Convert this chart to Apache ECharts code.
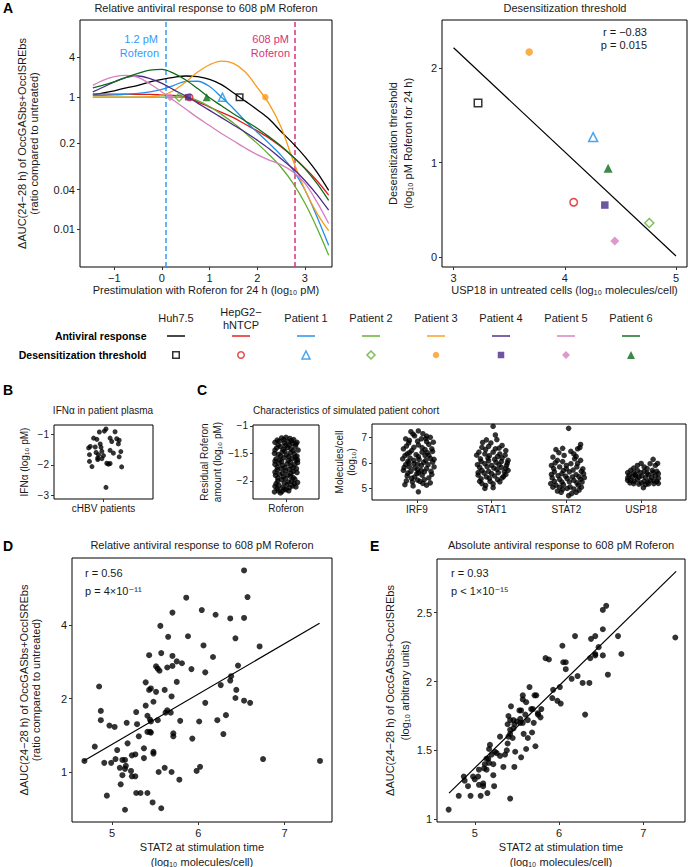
<!DOCTYPE html>
<html><head><meta charset="utf-8">
<script src="https://cdn.jsdelivr.net/npm/echarts@6/dist/echarts.min.js"></script>
<style>html,body{margin:0;padding:0;background:#fff}#c{width:688px;height:867px}</style>
</head><body><div id="c"></div>
<script>
const FONT = '"Liberation Sans", Arial, Helvetica, "DejaVu Sans", sans-serif';
const TXT = '#1a1a1a';

// ---------- Panel A ----------
const sampleNames = ['Huh7.5', 'HepG2−\nhNTCP', 'Patient 1', 'Patient 2', 'Patient 3', 'Patient 4', 'Patient 5', 'Patient 6'];
const sampleColors = ['#000000', '#e3191c', '#1f8fe6', '#5fae2e', '#f99b1c', '#4b2a88', '#d680bf', '#0e6a1a'];
const sampleSymbols = ['rect', 'circle', 'triangle', 'diamond', 'circle', 'rect', 'diamond', 'triangle'];
const sampleFilled = [false, false, false, false, true, true, true, true];
const legendRows = ['Antiviral response', 'Desensitization threshold'];

const prestimLog10pM = [-1.45, -1.25, -1, -0.75, -0.5, -0.25, 0, 0.25, 0.5, 0.75, 1, 1.25, 1.5, 1.75, 2, 2.25, 2.5, 2.75, 3, 3.25, 3.5];
const respHuh75 = [1.07, 1.15, 1.25, 1.38, 1.51, 1.70, 1.86, 2.00, 2.09, 2.04, 1.86, 1.55, 1.17, 0.871, 0.646, 0.468, 0.302, 0.200, 0.126, 0.0741, 0.0389];
const respHepG2 = [1.12, 1.12, 1.11, 1.11, 1.10, 1.10, 1.08, 1.06, 1.01, 0.851, 0.708, 0.589, 0.490, 0.389, 0.309, 0.240, 0.178, 0.126, 0.0851, 0.0550, 0.0331];
const respP1 = [1.07, 1.07, 1.08, 1.11, 1.14, 1.20, 1.31, 1.51, 1.73, 1.74, 1.45, 1.00, 0.676, 0.437, 0.295, 0.200, 0.132, 0.0794, 0.0398, 0.0158, 0.00575];
const respP2 = [1.0, 1.0, 1.0, 1.0, 1.0, 1.0, 1.0, 1.0, 0.99, 0.89, 0.724, 0.550, 0.407, 0.288, 0.200, 0.135, 0.0871, 0.0501, 0.0251, 0.0107, 0.00407];
const respP3 = [1.0, 1.0, 1.0, 1.0, 1.0, 1.02, 1.07, 1.26, 1.70, 2.40, 3.09, 3.51, 3.24, 2.40, 1.41, 0.794, 0.355, 0.112, 0.0398, 0.0178, 0.00955];
const respP4 = [1.20, 1.40, 1.70, 2.00, 2.09, 1.91, 1.62, 1.29, 1.04, 0.813, 0.631, 0.490, 0.380, 0.295, 0.224, 0.166, 0.117, 0.0832, 0.0550, 0.0339, 0.0195];
const respP5 = [1.51, 1.78, 2.04, 2.14, 2.00, 1.58, 1.20, 0.891, 0.661, 0.490, 0.372, 0.282, 0.219, 0.170, 0.135, 0.112, 0.0955, 0.0741, 0.0501, 0.0263, 0.0123];
const respP6 = [1.38, 1.51, 1.70, 2.00, 2.29, 2.57, 2.63, 2.29, 1.82, 1.35, 0.977, 0.741, 0.562, 0.437, 0.339, 0.251, 0.182, 0.126, 0.0832, 0.0501, 0.0275];
const respCurves = [respHuh75, respHepG2, respP1, respP2, respP3, respP4, respP5, respP6];
const ratioTicks = [0.01, 0.04, 0.2, 1, 4];
const roferonDosesPM = [1.2, 608];
const roferonDoseColors = ['#3399ff', '#d6337a'];

const desensThreshold = [1.63, 0.58, 1.27, 0.36, 2.17, 0.55, 0.17, 0.94];
const usp18Untreated = [3.22, 4.08, 4.255, 4.76, 3.68, 4.36, 4.45, 4.39];
const usp18Fit = [[3, 2.216], [5, 0.01]];

// ---------- Panel B ----------
const ifnPlasma = [[1.03,-0.83],[1.01,-0.90],[0.95,-0.93],[1.14,-0.92],[0.88,-1.13],[0.92,-1.17],[1.08,-1.13],[1.16,-1.15],[1.19,-1.20],[1.10,-1.24],[1.18,-1.32],[0.84,-1.40],[0.82,-1.45],[0.96,-1.32],[0.97,-1.43],[0.90,-1.42],[0.83,-1.67],[0.91,-1.60],[0.94,-1.67],[0.93,-1.78],[0.98,-1.56],[1.00,-1.70],[0.98,-1.80],[1.08,-1.53],[1.12,-1.62],[1.21,-1.57],[1.19,-1.74],[0.83,-1.89],[0.86,-2.06],[0.93,-1.83],[1.04,-1.95],[1.06,-1.98],[1.08,-1.96],[1.22,-2.07],[1.03,-2.74]];

// ---------- Panel C ----------
const roferonResidual = [[0.92,-1.22],[1.0,-1.21],[1.07,-1.23],[1.14,-1.25],[0.80,-1.30],[0.88,-1.28],[0.97,-1.31],[1.04,-1.29],[1.12,-1.32],[1.20,-1.30],[0.83,-1.40],[0.90,-1.38],[0.95,-1.43],[1.03,-1.39],[1.09,-1.42],[1.17,-1.37],[1.22,-1.44],[0.79,-1.50],[0.86,-1.52],[0.93,-1.48],[1.01,-1.53],[1.08,-1.49],[1.15,-1.51],[1.20,-1.55],[0.82,-1.60],[0.89,-1.62],[0.96,-1.58],[1.04,-1.63],[1.11,-1.59],[1.18,-1.62],[0.80,-1.70],[0.87,-1.68],[0.94,-1.72],[1.02,-1.69],[1.09,-1.73],[1.16,-1.70],[1.21,-1.67],[0.84,-1.80],[0.91,-1.78],[0.99,-1.82],[1.06,-1.79],[1.13,-1.83],[1.19,-1.78],[0.81,-1.90],[0.88,-1.88],[0.95,-1.93],[1.03,-1.89],[1.08,-1.92],[0.85,-2.00],[0.92,-1.98],[1.10,-2.01],[1.16,-1.97],[1.21,-2.03],[0.80,-2.10],[0.87,-2.08],[0.94,-2.12],[1.02,-2.07],[1.12,-2.09],[1.18,-2.11],[0.79,-2.20],[0.86,-2.18],[0.93,-2.19],[1.00,-2.16],
  [0.84,-1.26],[0.96,-1.25],[1.10,-1.27],[1.18,-1.33],[0.86,-1.35],[0.99,-1.36],[1.06,-1.35],[0.80,-1.44],[0.98,-1.46],[1.13,-1.45],[0.90,-1.55],[1.05,-1.56],[1.17,-1.57],[0.80,-1.64],[0.92,-1.65],[1.08,-1.66],[1.21,-1.62],[0.84,-1.75],[0.98,-1.76],[1.13,-1.76],[0.80,-1.84],[0.94,-1.86],[1.09,-1.86],[1.20,-1.85],[0.85,-1.95],[0.99,-1.96],[1.05,-2.02],[1.13,-1.94],[0.82,-2.05],[0.97,-2.04],[1.07,-2.12],[1.15,-2.05],[0.84,-2.14],[0.90,-2.22],[0.97,-2.15],[1.05,-2.18]];
const cohortGenes = ['IRF9', 'STAT1', 'STAT2', 'USP18'];
const irf9Cohort = [[0.92,7.22],[1.02,7.25],[1.08,7.14],[0.85,6.94],[1.18,7.0],[0.97,7.06],[1.06,6.94],[0.89,6.78],[1.13,6.83],[1.22,6.81],[0.82,6.55],[0.96,6.61],[1.02,6.70],[1.11,6.52],[1.20,6.55],[0.87,6.35],[0.99,6.32],[1.07,6.42],[1.16,6.29],[0.81,6.16],[0.91,6.19],[1.03,6.14],[1.12,6.10],[1.23,6.14],[0.85,5.93],[0.96,5.97],[1.06,5.90],[1.15,5.93],[1.23,5.84],[0.82,5.71],[0.92,5.67],[1.01,5.75],[1.10,5.65],[1.19,5.67],[0.87,5.49],[0.97,5.45],[1.07,5.52],[1.16,5.41],[0.84,5.15],[0.94,5.26],[1.04,5.28],[1.13,5.13],[1.02,4.87],[0.90,5.84],[1.11,6.29],[1.00,5.58],[1.21,6.03],[0.88,6.06],
  [0.95,7.12],[1.13,7.05],[0.90,6.88],[1.01,6.85],[1.16,6.72],[0.86,6.66],[1.07,6.60],[0.93,6.48],[1.14,6.40],[1.21,6.45],[0.84,6.28],[1.02,6.24],[0.96,6.10],[1.18,6.18],[0.89,6.00],[1.09,6.02],[1.01,5.95],[0.83,5.82],[0.97,5.80],[1.13,5.78],[1.06,5.70],[0.88,5.60],[1.02,5.62],[1.20,5.55],[0.93,5.40],[1.10,5.35],[1.01,5.33],[0.86,5.30],[1.18,5.22],[0.95,5.10],[1.08,5.20],[0.90,6.40],[1.12,6.95]];
const stat1Cohort = [[2.02,7.43],[2.05,7.09],[1.93,6.90],[2.07,6.91],[1.87,6.61],[1.96,6.65],[2.14,6.68],[2.19,6.48],[1.83,6.42],[1.91,6.35],[2.02,6.42],[2.11,6.35],[1.85,6.16],[1.95,6.19],[2.04,6.14],[2.14,6.19],[2.22,6.10],[1.81,5.93],[1.91,5.97],[2.0,5.90],[2.10,5.93],[2.20,5.90],[1.87,5.71],[1.96,5.67],[2.07,5.75],[2.17,5.65],[1.82,5.52],[1.93,5.45],[2.04,5.49],[2.14,5.41],[1.87,5.19],[2.02,5.03],[1.91,5.0],[2.11,5.26],[1.98,5.28],[2.22,5.71],
  [1.88,6.80],[1.99,6.78],[2.10,6.58],[1.92,6.52],[2.05,6.55],[1.80,6.30],[1.97,6.28],[2.08,6.25],[2.18,6.30],[1.86,6.05],[1.96,6.08],[2.06,6.02],[2.13,6.05],[2.21,6.00],[1.84,5.82],[1.94,5.85],[2.03,5.80],[2.13,5.82],[2.19,5.78],[1.82,5.62],[1.90,5.60],[2.00,5.58],[2.09,5.62],[2.19,5.55],[1.86,5.38],[1.97,5.40],[2.08,5.35],[2.02,5.18],[1.92,5.12],[1.84,5.28],[2.16,5.47]];
const stat2Cohort = [[3.03,7.35],[3.19,6.72],[3.15,6.55],[2.86,6.52],[2.95,6.57],[3.06,6.45],[2.97,6.29],[2.82,6.23],[2.88,6.10],[3.11,6.16],[3.19,6.10],[3.06,5.97],[2.80,5.90],[2.91,5.84],[3.0,5.77],[3.14,5.84],[3.22,5.77],[2.84,5.65],[2.94,5.58],[3.04,5.65],[3.13,5.54],[3.23,5.58],[2.81,5.41],[2.91,5.36],[3.01,5.39],[3.10,5.32],[3.19,5.36],[2.86,5.13],[2.96,5.15],[3.05,5.06],[3.16,5.13],[2.88,4.90],[3.03,4.72],[3.13,4.85],[2.95,4.97],[2.79,5.19],[3.17,4.94],
  [2.90,6.40],[3.10,6.35],[2.85,6.00],[2.95,6.05],[3.15,5.98],[2.83,5.78],[2.96,5.70],[3.09,5.72],[3.20,5.67],[2.80,5.55],[2.89,5.50],[2.99,5.48],[3.08,5.45],[3.17,5.46],[3.24,5.42],[2.84,5.28],[2.94,5.25],[3.04,5.26],[3.14,5.22],[3.21,5.25],[2.82,5.05],[2.91,5.05],[3.01,5.00],[3.10,4.98],[3.20,5.05],[2.93,4.85],[3.07,4.80],[3.00,5.90],[3.13,6.25],[3.18,6.60]];
const usp18Cohort = [[4.16,6.14],[4.12,5.97],[3.95,5.90],[4.04,5.84],[4.19,5.90],[3.86,5.71],[3.95,5.71],[4.04,5.67],[4.15,5.71],[4.21,5.67],[3.84,5.52],[3.92,5.54],[4.01,5.49],[4.10,5.54],[4.19,5.49],[3.86,5.32],[3.95,5.36],[4.04,5.28],[4.12,5.32],[4.21,5.28],[3.90,5.19],[4.06,5.15],[4.03,5.03],[4.17,5.19],[3.82,5.41],
  [3.82,5.62],[3.90,5.60],[3.99,5.62],[4.08,5.60],[4.16,5.62],[4.23,5.58],[3.88,5.45],[3.97,5.44],[4.06,5.42],[4.14,5.43],[4.23,5.40],[3.82,5.32],[3.91,5.28],[4.00,5.22],[4.09,5.25],[4.17,5.30],[4.23,5.20],[3.85,5.22],[3.97,5.17],[4.10,5.18],[3.90,5.80],[4.08,5.78],[4.00,5.98],[4.22,5.98],[3.93,5.50]];

// ---------- Panel D (STAT2 vs relative response, ratio) ----------
const stat2VsRelative = [[6.53,6.70],[6.57,5.21],[5.86,5.18],[6.04,4.61],[5.70,4.50],[6.20,4.41],[6.37,4.26],[6.53,4.28],[5.56,3.97],[5.65,3.58],[5.88,3.60],[6.43,3.53],[6.71,3.27],[6.06,3.30],[5.43,3.01],[5.57,3.07],[5.70,2.99],[6.17,2.96],[5.75,2.84],[5.81,2.79],[5.51,2.71],[5.53,2.65],[5.55,2.60],[5.64,2.68],[5.70,2.72],[6.46,2.73],[5.92,2.64],[6.08,2.56],[6.38,2.47],[6.37,2.37],[5.39,2.33],[5.75,2.34],[6.26,2.27],[4.85,2.24],[5.51,2.13],[5.45,2.20],[5.43,2.17],[5.61,2.17],[5.48,1.94],[5.69,2.04],[5.39,1.87],[6.44,2.17],[6.43,2.01],[6.08,1.92],[6.53,1.96],[6.60,1.92],[5.64,1.79],[5.62,1.75],[5.68,1.75],[4.87,1.78],[4.87,1.63],[5.28,1.76],[5.41,1.70],[5.44,1.64],[5.53,1.63],[5.45,1.61],[5.17,1.59],[5.29,1.57],[5.03,1.53],[5.79,1.62],[6.01,1.61],[6.22,1.63],[6.32,1.71],[4.97,1.55],[5.41,1.46],[5.44,1.46],[5.45,1.45],[5.71,1.44],[5.71,1.40],[6.29,1.43],[5.31,1.40],[5.18,1.31],[5.93,1.37],[4.80,1.27],[5.06,1.23],[5.37,1.25],[5.48,1.21],[5.48,1.19],[5.27,1.18],[5.23,1.17],[5.37,1.14],[5.12,1.12],[5.15,1.12],[5.04,1.13],[4.91,1.09],[4.99,1.09],[4.68,1.11],[5.16,1.06],[5.09,1.04],[5.15,1.03],[5.22,1.01],[5.23,0.96],[5.27,0.96],[5.12,0.97],[5.54,1.00],[5.69,1.00],[5.61,1.04],[5.10,0.89],[5.78,0.93],[5.98,1.01],[6.02,1.05],[6.75,1.13],[7.41,1.11],[4.94,0.80],[5.28,0.82],[5.33,0.82],[5.41,0.82],[5.47,0.75],[5.15,0.70],[5.57,0.71]];
const relativeFit = [[4.67, 1.11], [7.405, 4.07]];
const relativeTicks = [1, 2, 4];

// ---------- Panel E (STAT2 vs absolute response) ----------
const stat2VsAbsolute = [[6.56,2.55],[6.52,2.52],[6.52,2.38],[7.38,2.32],[6.19,2.33],[6.70,2.33],[6.38,2.31],[6.43,2.33],[6.47,2.25],[6.04,2.26],[6.43,2.20],[6.43,2.19],[6.52,2.19],[6.74,2.20],[5.84,2.17],[5.88,2.16],[6.37,2.17],[6.05,2.14],[6.08,2.14],[6.08,2.09],[6.58,2.05],[6.22,2.04],[6.15,2.02],[6.28,1.99],[6.36,1.99],[6.01,1.96],[5.93,1.94],[5.92,1.88],[6.02,1.84],[5.98,1.86],[5.65,1.96],[5.57,1.90],[5.57,1.87],[5.71,1.90],[5.73,1.90],[5.61,1.85],[5.43,1.82],[5.53,1.79],[5.55,1.79],[5.67,1.80],[5.69,1.80],[5.79,1.80],[5.75,1.77],[5.78,1.74],[5.75,1.76],[5.60,1.76],[5.63,1.72],[5.70,1.70],[5.40,1.75],[5.42,1.72],[5.46,1.72],[5.50,1.71],[5.47,1.69],[5.39,1.69],[5.54,1.70],[5.42,1.65],[5.42,1.62],[5.46,1.66],[5.57,1.70],[5.68,1.63],[5.63,1.59],[5.58,1.62],[5.40,1.60],[5.45,1.59],[5.30,1.60],[5.72,1.53],[5.61,1.51],[5.55,1.45],[5.39,1.55],[5.38,1.50],[5.36,1.47],[5.34,1.38],[5.47,1.38],[5.24,1.49],[5.26,1.48],[5.30,1.46],[5.18,1.54],[5.17,1.51],[5.20,1.47],[5.16,1.44],[5.14,1.44],[5.17,1.41],[5.12,1.40],[5.14,1.36],[5.11,1.37],[5.05,1.36],[5.04,1.31],[4.98,1.31],[5.00,1.29],[4.87,1.31],[4.88,1.28],[4.92,1.24],[5.10,1.26],[5.10,1.24],[5.23,1.24],[5.15,1.19],[5.07,1.17],[4.95,1.17],[4.81,1.17],[4.69,1.07],[5.42,1.15],[5.22,1.32],[5.48,1.49],[6.31,1.76],[5.54,1.73],[5.22,1.40],[5.05,1.25]];
const absoluteFit = [[4.695, 1.19], [7.39, 2.80]];

// ---------- helpers ----------
const L10 = Math.log10;
const fmtNum = v => String(Math.round(v * 1000) / 1000).replace('-', '−');
function near(list, v) { let b = list[0]; list.forEach(t => { if (Math.abs(t - v) < Math.abs(b - v)) b = t; }); return b; }

function valAxis(gi, min, max, ticks, fmt, o) {
  const base = {
    type: 'value', gridIndex: gi, min: min, max: max, scale: true,
    axisLine: { show: false, onZero: false }, splitLine: { show: false },
    axisTick: { show: true, customValues: ticks, length: 3, lineStyle: { color: '#333', width: 1 } },
    axisLabel: { customValues: ticks, formatter: fmt || fmtNum, color: TXT, fontSize: 11, fontFamily: FONT, margin: 5 },
    nameLocation: 'middle',
    nameTextStyle: { color: TXT, fontSize: 11, fontFamily: FONT, lineHeight: 12 }
  };
  if (o) {
    Object.keys(o).forEach(k => {
      if (typeof o[k] === 'object' && !Array.isArray(o[k]) && base[k]) base[k] = Object.assign({}, base[k], o[k]);
      else base[k] = o[k];
    });
  }
  return base;
}
function gridBox(left, top, width, height) {
  return { left, top, width, height, show: true, borderColor: '#000', borderWidth: 1, backgroundColor: 'transparent', containLabel: false, outerBoundsMode: 'none' };
}
function markerStyle(i) {
  return sampleFilled[i]
    ? { color: sampleColors[i], borderWidth: 0 }
    : { color: 'transparent', borderColor: sampleColors[i], borderWidth: 1.5 };
}
function markerSize(i) { return sampleSymbols[i] === 'triangle' ? 8 : (sampleSymbols[i] === 'diamond' ? 8 : 6.5); }

const grids = [
  gridBox(80, 20, 252, 247),    // 0 A left
  gridBox(442, 20, 245, 247),   // 1 A right
  { left: 143.5, top: 326.5, width: 520, height: 38, show: false, containLabel: false, outerBoundsMode: 'none' }, // 2 legend table
  gridBox(54, 425, 99, 74),     // 3 B
  gridBox(253, 425, 66, 74),    // 4 C1
  gridBox(372, 424, 314, 76),   // 5 C2
  gridBox(72, 558, 260, 264),   // 6 D
  gridBox(437, 559, 248, 263)   // 7 E
];

const xAxes = [
  valAxis(0, -1.72, 3.57, [-1, 0, 1, 2, 3], null, { name: 'Prestimulation with Roferon for 24 h (log₁₀ pM)', nameGap: 17 }),
  valAxis(1, 2.896, 5.099, [3, 4, 5], null, { name: 'USP18 in untreated cells (log₁₀ molecules/cell)', nameGap: 17 }),
  { type: 'category', gridIndex: 2, position: 'top', data: sampleNames, axisLine: { show: false }, axisTick: { show: false },
    axisLabel: { color: TXT, fontSize: 11, fontFamily: FONT, verticalAlign: 'middle', margin: 8.5, lineHeight: 13, interval: 0 } },
  valAxis(3, 0.4, 1.6, [1], () => 'cHBV patients', { axisLabel: { fontSize: 10, margin: 4 } }),
  valAxis(4, 0.4, 1.6, [1], () => 'Roferon', { axisLabel: { fontSize: 10, margin: 4 } }),
  valAxis(5, 0.4, 4.6, [1, 2, 3, 4], v => cohortGenes[Math.round(v) - 1], { axisLabel: { fontSize: 10, margin: 4 } }),
  valAxis(6, 4.536, 7.549, [5, 6, 7], null, { name: 'STAT2 at stimulation time\n(log₁₀ molecules/cell)', nameGap: 17, nameTextStyle: { lineHeight: 15 } }),
  valAxis(7, 4.552, 7.495, [5, 6, 7], null, { name: 'STAT2 at stimulation time\n(log₁₀ molecules/cell)', nameGap: 17, nameTextStyle: { lineHeight: 15 } })
];

const yAxes = [
  valAxis(0, L10(0.0027), L10(14.7), ratioTicks.map(L10), v => String(near(ratioTicks, Math.pow(10, v))),
    { name: 'ΔAUC(24−28 h) of OccGASbs+OccISREbs\n(ratio compared to untreated)', nameGap: 40, nameRotate: 90 }),
  valAxis(1, -0.106, 2.51, [0, 1, 2], null,
    { name: 'Desensitization threshold\n(log₁₀ pM Roferon for 24 h)', nameGap: 27, nameRotate: 90, nameTextStyle: { lineHeight: 15 } }),
  { type: 'category', gridIndex: 2, inverse: true, data: legendRows, axisLine: { show: false }, axisTick: { show: false },
    offset: -10, axisLabel: { color: '#000', fontSize: 10.5, fontWeight: 'bold', fontFamily: FONT, margin: 7 } },
  valAxis(3, -3.12, -0.70, [-3, -2, -1], null,
    { name: 'IFNα (log₁₀ pM)', nameGap: 24, nameRotate: 90, axisLabel: { fontSize: 10 }, nameTextStyle: { fontSize: 10 } }),
  valAxis(4, -2.33, -0.985, [-2, -1.5, -1], null,
    { name: 'Residual Roferon\namount (log₁₀ pM)', nameGap: 28, nameRotate: 90, axisLabel: { fontSize: 10 }, nameTextStyle: { fontSize: 10, lineHeight: 13 } }),
  valAxis(5, 4.55, 7.52, [5, 6, 7], null,
    { name: 'Molecules/cell\n(log₁₀)', nameGap: 15, nameRotate: 90, axisLabel: { fontSize: 10 }, nameTextStyle: { fontSize: 10, lineHeight: 12 } }),
  valAxis(6, -0.205, 0.877, relativeTicks.map(L10), v => String(near(relativeTicks, Math.pow(10, v))),
    { name: 'ΔAUC(24−28 h) of OccGASbs+OccISREbs\n(ratio compared to untreated)', nameGap: 30, nameRotate: 90 }),
  valAxis(7, 0.98, 2.89, [1, 1.5, 2, 2.5], null,
    { name: 'ΔAUC(24−28 h) of OccGASbs+OccISREbs\n(log₁₀ arbitrary units)', nameGap: 24, nameRotate: 90, nameTextStyle: { lineHeight: 15 } })
];

const series = [];
// A left: response curves
respCurves.forEach((arr, i) => {
  const s = {
    type: 'line', xAxisIndex: 0, yAxisIndex: 0, smooth: 0.35, symbol: 'none', silent: true, z: 3,
    data: prestimLog10pM.map((x, j) => [x, L10(arr[j])]),
    lineStyle: { color: sampleColors[i], width: 1.3 }
  };
  if (i === 0) {
    s.markLine = {
      symbol: 'none', silent: true, label: { show: false }, z: 2,
      data: roferonDosesPM.map((d, k) => ({ xAxis: L10(d), lineStyle: { color: roferonDoseColors[k], type: [5, 3], width: 1.5 } }))
    };
  }
  series.push(s);
});
// A left: threshold markers on curves at ratio 1
sampleNames.forEach((n, i) => {
  series.push({ type: 'scatter', xAxisIndex: 0, yAxisIndex: 0, z: 5, silent: true,
    symbol: sampleSymbols[i], symbolSize: markerSize(i),
    data: [[desensThreshold[i], L10(1)]], itemStyle: markerStyle(i) });
});
// A right
series.push({ type: 'line', xAxisIndex: 1, yAxisIndex: 1, symbol: 'none', silent: true, data: usp18Fit, lineStyle: { color: '#000', width: 1.2 } });
sampleNames.forEach((n, i) => {
  series.push({ type: 'scatter', xAxisIndex: 1, yAxisIndex: 1, z: 5, silent: true,
    symbol: sampleSymbols[i], symbolSize: markerSize(i) + 1,
    data: [[usp18Untreated[i], desensThreshold[i]]], itemStyle: markerStyle(i) });
});
// Legend table
series.push({ type: 'scatter', xAxisIndex: 2, yAxisIndex: 2, silent: true, symbol: 'rect', symbolSize: [18, 1.8],
  data: sampleNames.map((n, i) => ({ value: [i, 0], itemStyle: { color: sampleColors[i] } })) });
series.push({ type: 'scatter', xAxisIndex: 2, yAxisIndex: 2, silent: true,
  data: sampleNames.map((n, i) => ({ value: [i, 1], symbol: sampleSymbols[i], symbolSize: markerSize(i), itemStyle: markerStyle(i) })) });
// B, C
const dot = (xi, yi, data, size) => ({ type: 'scatter', xAxisIndex: xi, yAxisIndex: yi, silent: true, symbolSize: size, data, itemStyle: { color: '#000' } });
series.push(dot(3, 3, ifnPlasma, 5));
series.push(dot(4, 4, roferonResidual, 5.5));
[irf9Cohort, stat1Cohort, stat2Cohort, usp18Cohort].forEach(d => series.push(dot(5, 5, d, 5.5)));
// D
series.push({ type: 'line', xAxisIndex: 6, yAxisIndex: 6, symbol: 'none', silent: true, data: relativeFit.map(p => [p[0], L10(p[1])]), lineStyle: { color: '#000', width: 1.2 } });
series.push(dot(6, 6, stat2VsRelative.map(p => [p[0], L10(p[1])]), 6));
// E
series.push({ type: 'line', xAxisIndex: 7, yAxisIndex: 7, symbol: 'none', silent: true, data: absoluteFit, lineStyle: { color: '#000', width: 1.2 } });
series.push(dot(7, 7, stat2VsAbsolute, 6));

function T(text, x, y, o) {
  o = o || {};
  return { type: 'text', x, y, silent: true, style: {
    text, fill: o.color || TXT, fontSize: o.size || 11, fontFamily: FONT, fontWeight: o.bold ? 'bold' : 'normal',
    align: o.align || 'center', verticalAlign: 'middle' } };
}
const graphics = [
  T('A', 3, 8, { bold: true, size: 14, align: 'left', color: '#000' }),
  T('Relative antiviral response to 608 pM Roferon', 206, 8),
  T('Desensitization threshold', 565, 8),
  T('1.2 pM', 158, 39, { color: roferonDoseColors[0], align: 'right' }),
  T('Roferon', 159, 53, { color: roferonDoseColors[0], align: 'right' }),
  T('608 pM', 289, 39, { color: roferonDoseColors[1], align: 'right' }),
  T('Roferon', 290, 53, { color: roferonDoseColors[1], align: 'right' }),
  T('r = −0.83', 647, 32, { align: 'right' }),
  T('p = 0.015', 647, 45, { align: 'right' }),
  T('B', 3, 390, { bold: true, size: 14, align: 'left', color: '#000' }),
  T('C', 197, 390, { bold: true, size: 14, align: 'left', color: '#000' }),
  T('IFNα in patient plasma', 103, 410, { size: 10 }),
  T('Characteristics of simulated patient cohort', 253, 410, { size: 10, align: 'left' }),
  T('D', 3, 546, { bold: true, size: 14, align: 'left', color: '#000' }),
  T('E', 370, 546, { bold: true, size: 14, align: 'left', color: '#000' }),
  T('Relative antiviral response to 608 pM Roferon', 202, 545),
  T('Absolute antiviral response to 608 pM Roferon', 561, 545),
  T('r = 0.56', 85, 573, { align: 'left' }),
  T('p = 4×10⁻¹¹', 85, 591, { align: 'left' }),
  T('r = 0.93', 451, 573, { align: 'left' }),
  T('p < 1×10⁻¹⁵', 451, 591, { align: 'left' })
];

const chart = echarts.init(document.getElementById('c'), null, { renderer: 'svg', width: 688, height: 867 });
chart.setOption({
  animation: false,
  backgroundColor: '#fff',
  textStyle: { fontFamily: FONT },
  grid: grids, xAxis: xAxes, yAxis: yAxes, series: series, graphic: graphics
});
</script>
</body></html>
